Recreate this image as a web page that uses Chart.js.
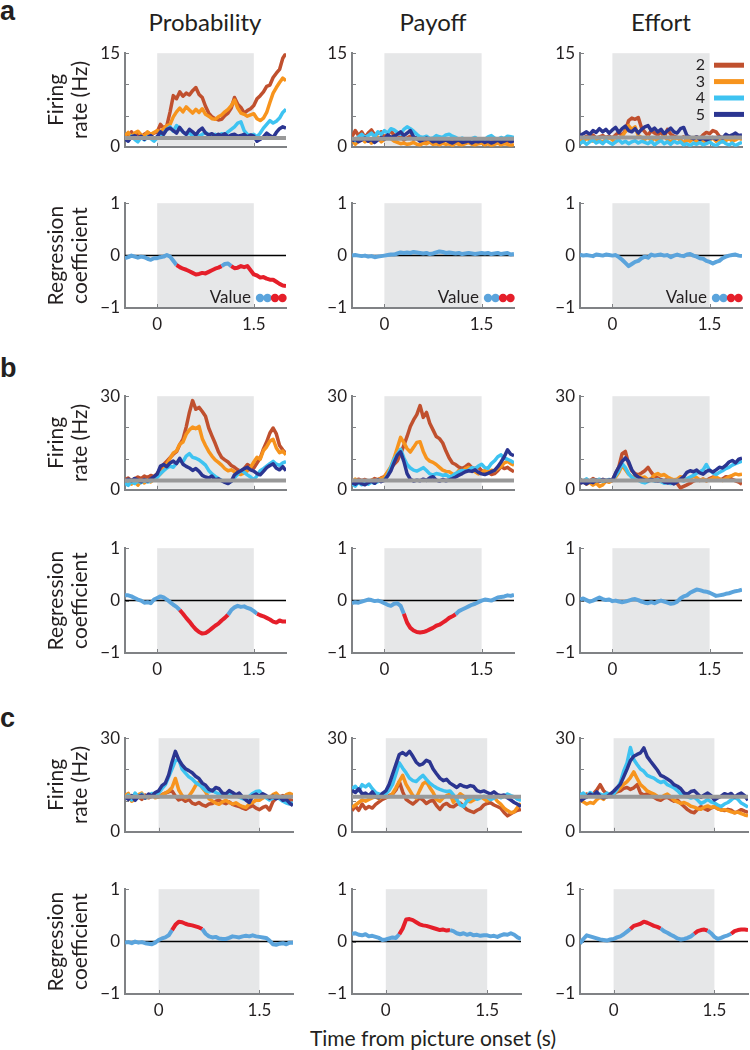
<!DOCTYPE html>
<html>
<head>
<meta charset="utf-8">
<script src="https://cdn.jsdelivr.net/npm/chart.js@4.4.1/dist/chart.umd.min.js"></script>
<style>
  html, body { margin: 0; padding: 0; background: #fff; overflow: hidden; }
  body { width: 750px; height: 1050px; position: relative; font-family: Lato, "Liberation Sans", Arial, sans-serif; color: #231f20; }
  canvas { position: absolute; }
  .lbl { position: absolute; white-space: nowrap; }
  .letter { font-weight: bold; font-size: 27px; font-family: "Liberation Sans", Arial, sans-serif; }
  .head { font-size: 24px; transform: translateX(-50%); }
</style>
</head>
<body>
<div class="lbl letter" style="left:0px;top:-4px">a</div>
<div class="lbl letter" style="left:0px;top:353px">b</div>
<div class="lbl letter" style="left:0px;top:703px">c</div>
<div class="lbl head" style="left:205px;top:7px">Probability</div>
<div class="lbl head" style="left:433px;top:7px">Payoff</div>
<div class="lbl head" style="left:661px;top:7px">Effort</div>
<div class="lbl head" style="left:433px;top:1025px;font-size:21px">Time from picture onset (s)</div>

<script>
// time axis (s)
const times = [-0.5,-0.45,-0.4,-0.35,-0.3,-0.25,-0.2,-0.15,-0.1,-0.05,
  0,0.05,0.1,0.15,0.2,0.25,0.3,0.35,0.4,0.45,
  0.5,0.55,0.6,0.65,0.7,0.75,0.8,0.85,0.9,0.95,
  1,1.05,1.1,1.15,1.2,1.25,1.3,1.35,1.4,1.45,
  1.5,1.55,1.6,1.65,1.7,1.75,1.8,1.85,1.9,1.95,2];

const seriesLabels = ['2', '3', '4', '5'];
const ticksA = [0, 5, 10, 15];
const ticksBC = [0, 10, 20, 30];
const regTicks = [-1, 0, 1];
const xTicks = [0, 1.5];
const picWindow = [0, 1.5];

// ---- row a : firing rate ----
const aProb2 = [2.1,1.6,2.4,1.8,2.2,1.5,2.0,2.3,1.9,2.2, 2.4,3.6,3.0,3.4,5.6,8.2,7.7,8.8,8.1,8.6, 8.3,9.0,9.5,8.4,7.9,6.5,5.4,4.8,4.5,4.3, 4.4,5.0,5.4,6.2,7.9,6.8,6.3,5.4,5.8,6.1, 6.6,7.7,8.2,8.8,9.7,9.9,11.1,11.8,12.4,14.2,15.0];
const aProb3 = [1.8,2.3,1.6,2.2,2.5,1.9,1.7,2.4,2.0,2.3, 2.6,2.4,2.9,3.4,3.6,4.8,5.6,6.2,5.6,6.4, 5.9,5.4,6.0,5.5,6.1,5.2,4.9,4.5,4.4,4.8, 5.1,5.6,6.0,6.6,7.5,6.2,5.4,5.2,4.9,5.1, 5.3,4.5,4.2,4.6,5.5,7.1,8.6,9.5,10.3,11.0,10.6];
const aProb4 = [1.3,1.0,1.7,1.2,0.8,1.5,1.1,1.6,1.3,0.9, 1.4,1.7,2.2,2.8,3.2,2.5,3.4,2.9,2.4,2.0, 2.2,1.8,2.1,1.7,2.0,2.3,1.9,1.6,2.0,1.8, 2.1,1.9,2.4,2.8,3.2,3.8,4.0,2.6,2.0,1.8, 2.0,1.6,2.2,3.0,3.6,4.2,3.8,4.1,4.6,5.5,6.0];
const aProb5 = [1.2,0.9,1.6,1.8,1.4,1.7,1.2,1.5,1.8,1.4, 1.6,2.4,2.0,2.8,3.0,2.6,2.2,3.1,2.4,2.0, 2.8,2.4,1.9,2.6,3.0,2.2,1.9,2.1,1.7,2.0, 1.8,2.1,1.6,1.9,2.0,1.7,1.8,2.0,1.6,1.9, 1.7,0.9,1.2,1.6,2.2,1.8,1.5,2.3,2.9,3.2,3.0];
const aPay2 = [1.6,2.6,1.8,2.4,1.5,2.2,2.7,1.9,2.1,2.4, 1.5,2.0,2.6,1.8,1.3,1.6,1.1,1.4,1.7,1.2, 1.5,1.0,1.3,0.9,1.2,1.0,0.8,1.1,0.9,1.3, 1.0,0.7,1.1,0.8,1.0,0.6,0.9,0.7,1.0,0.8, 1.1,0.9,0.6,0.8,1.0,0.7,0.9,1.1,0.8,1.0,0.9];
const aPay3 = [1.1,0.4,0.9,1.4,0.8,1.2,0.6,1.0,1.5,0.8, 1.2,1.6,1.3,0.9,0.7,0.5,0.6,0.4,0.5,0.7, 0.4,0.3,0.6,0.5,0.8,0.4,0.5,0.3,0.6,0.4, 0.5,0.2,0.6,0.4,0.3,0.5,0.7,0.4,0.3,0.5, 0.6,0.3,0.5,0.2,0.4,0.6,0.3,0.5,0.4,0.2,0.4];
const aPay4 = [1.4,1.0,1.6,2.0,1.5,1.8,2.2,1.6,2.4,2.0, 2.6,2.2,2.9,2.7,2.3,2.0,2.8,3.2,2.9,2.5, 2.0,1.6,1.5,1.7,1.3,1.4,1.8,1.6,1.5,1.9, 2.0,1.7,1.5,1.2,1.4,1.2,1.0,1.3,1.5,1.1, 1.0,1.2,1.6,1.8,1.4,1.2,1.5,1.3,1.7,1.6,1.5];
const aPay5 = [0.9,1.3,0.8,1.1,1.4,0.9,1.2,0.7,1.1,1.5, 1.2,1.9,1.5,1.7,2.0,2.4,1.8,2.2,2.6,1.6, 1.3,0.9,1.1,1.4,1.2,0.8,1.0,0.7,0.9,1.1, 0.8,0.6,0.9,1.1,0.7,0.8,1.0,0.6,0.9,0.8, 1.0,0.7,0.9,0.6,0.8,1.1,0.7,0.9,1.2,0.8,1.0];
const aEff2 = [1.6,1.3,1.7,1.5,1.9,1.4,1.6,1.8,1.5,1.7, 1.4,1.9,2.3,1.8,2.6,4.2,4.6,4.4,4.7,3.0, 2.4,1.8,2.6,2.2,1.9,2.4,1.6,2.8,2.0,1.7, 1.5,1.3,1.6,1.2,1.0,1.4,1.6,1.3,1.9,2.3, 2.1,2.6,2.4,1.7,1.4,1.2,1.5,1.3,1.6,1.4,1.3];
const aEff3 = [1.2,0.8,1.4,1.1,0.9,1.3,1.0,0.7,1.2,1.5, 1.1,0.8,1.4,1.7,2.4,3.4,2.8,3.2,1.8,1.5, 1.2,1.6,1.0,1.4,0.9,1.3,1.7,1.1,0.8,1.2, 1.5,1.0,0.7,1.1,0.9,1.3,0.8,1.2,1.0,0.7, 1.1,1.4,0.9,1.2,0.8,1.0,1.3,0.9,1.1,1.4,1.2];
const aEff4 = [0.5,0.9,0.4,0.8,1.1,0.6,0.9,0.5,1.0,0.7, 0.4,0.8,1.1,0.6,0.9,0.5,0.8,1.0,0.6,0.9, 0.7,0.5,0.9,0.3,0.7,1.0,0.5,0.8,0.4,0.9, 0.6,0.8,0.3,0.5,0.2,0.6,0.4,0.7,0.3,0.5, 0.8,0.4,0.2,0.6,0.9,0.5,0.3,0.6,0.2,0.5,0.7];
const aEff5 = [1.8,2.1,2.4,2.0,2.6,2.3,2.9,2.4,2.8,2.2, 2.7,3.1,2.3,2.9,3.3,2.6,2.4,2.9,2.2,2.8, 3.2,3.4,2.6,3.0,2.4,2.8,2.1,2.6,3.0,2.4, 2.2,2.9,3.1,1.8,1.5,1.3,1.6,1.2,1.4,1.1, 1.3,1.5,1.2,1.6,1.4,2.0,1.7,1.9,2.2,1.8,1.9];
const baseA = [1.4, 1.3, 1.5];

// ---- row a : regression ----
const aProbReg = [-0.05,-0.03,0.0,-0.02,-0.04,-0.02,-0.03,-0.06,-0.08,-0.05, -0.05,-0.03,-0.02,0.01,-0.02,-0.1,-0.18,-0.22,-0.25,-0.27, -0.3,-0.33,-0.36,-0.35,-0.33,-0.34,-0.31,-0.28,-0.25,-0.23, -0.2,-0.16,-0.15,-0.2,-0.24,-0.23,-0.2,-0.22,-0.2,-0.28, -0.36,-0.38,-0.42,-0.41,-0.44,-0.46,-0.46,-0.5,-0.54,-0.57,-0.58];
const aPayReg = [0.0,0.01,0.0,-0.01,0.0,-0.02,-0.01,-0.03,-0.02,-0.01, 0.0,0.01,0.02,0.02,0.04,0.06,0.05,0.06,0.05,0.07, 0.06,0.05,0.04,0.05,0.03,0.04,0.06,0.08,0.07,0.05, 0.06,0.05,0.04,0.05,0.03,0.04,0.05,0.04,0.03,0.04, 0.05,0.04,0.05,0.03,0.04,0.05,0.03,0.04,0.05,0.02,0.03];
const aEffReg = [0.02,0.0,0.01,0.0,-0.01,0.02,0.01,0.0,0.02,0.01, 0.0,0.01,-0.03,-0.08,-0.14,-0.2,-0.16,-0.12,-0.1,-0.05, -0.02,-0.04,0.02,0.0,0.01,0.02,0.0,0.01,-0.03,0.0, 0.02,0.0,-0.01,0.02,0.03,0.0,-0.02,-0.05,-0.06,-0.1, -0.12,-0.15,-0.12,-0.1,-0.05,-0.02,0.0,0.01,0.02,0.0,-0.01];
const aProbSig = [[0.3, 1.0], [1.15, 2.0]];
const aPaySig = [];
const aEffSig = [];

// ---- row b : firing rate ----
const bProb2 = [3.2,3.8,2.9,3.5,4.1,3.6,4.4,3.9,4.6,4.2, 5.2,6.8,8.1,9.2,10.3,11.4,12.2,14.5,16.2,20.1, 24.8,28.6,25.8,26.4,25.1,23.6,19.8,17.3,14.9,12.2, 10.4,9.6,8.9,7.8,7.2,6.4,5.9,6.8,8.1,7.4, 7.0,8.6,10.2,13.1,15.4,18.2,19.8,17.9,14.2,12.8,11.6];
const bProb3 = [2.4,3.0,1.8,2.6,1.5,2.8,2.2,3.1,2.5,3.4, 4.2,5.1,6.3,8.4,10.1,11.8,12.4,14.6,15.3,17.8, 19.2,20.1,19.6,20.3,16.4,14.2,12.3,10.8,9.6,8.8, 7.9,6.8,6.1,6.4,5.8,5.2,4.9,5.4,6.1,7.2, 8.9,10.4,9.8,12.6,13.8,15.6,16.2,13.4,11.9,12.4,11.2];
const bProb4 = [2.2,1.4,2.6,2.0,2.8,2.3,3.1,2.5,2.9,3.6, 4.0,5.2,6.1,7.0,7.6,7.2,8.6,9.4,9.0,10.8, 11.6,10.4,10.1,9.6,8.8,7.9,6.2,5.1,4.3,3.6, 3.0,2.6,2.1,2.8,3.9,5.0,6.2,5.6,4.8,4.1, 3.2,4.5,6.1,6.8,7.6,8.4,9.1,8.2,7.8,8.6,9.0];
const bProb5 = [2.8,3.4,2.9,3.6,3.1,2.6,3.3,2.8,3.5,4.2, 5.0,7.6,8.1,7.4,8.6,9.2,8.4,10.1,8.2,7.5, 7.0,6.2,6.8,5.9,4.6,4.1,3.8,4.4,3.2,3.5, 2.9,2.4,2.0,2.7,4.8,5.6,6.1,6.8,7.2,6.4, 6.0,5.2,4.8,5.9,7.1,7.8,8.3,6.9,6.4,7.4,6.1];
const bPay2 = [3.1,2.6,3.4,2.9,3.3,2.8,3.0,3.6,3.2,3.8, 4.2,5.5,7.1,8.2,9.3,11.6,14.2,17.1,20.3,22.4, 24.1,27.0,23.2,24.8,21.3,19.2,17.1,16.4,15.0,12.4, 10.2,8.6,8.1,7.3,6.9,7.4,8.2,7.1,6.8,7.3, 6.1,5.4,5.8,4.9,5.2,6.1,7.4,6.8,7.2,6.4,5.8];
const bPay3 = [2.1,3.4,2.6,1.8,2.9,2.4,3.1,2.7,3.3,3.6, 4.1,5.8,7.4,10.2,13.5,16.8,15.1,13.2,12.1,13.6, 15.2,15.4,12.3,10.1,9.2,8.8,8.1,7.2,6.3,5.9, 5.8,5.1,4.9,6.2,5.7,6.8,7.2,6.4,5.8,5.1, 5.4,6.2,5.7,6.3,6.1,6.8,7.4,8.6,9.1,8.4,7.9];
const bPay4 = [2.0,1.2,2.4,1.6,2.2,1.8,2.5,2.1,2.6,2.9, 3.1,4.6,7.2,9.8,11.4,13.0,10.2,8.1,7.0,6.3, 6.0,6.5,7.1,6.2,5.1,4.8,5.2,5.0,4.6,4.9, 4.1,4.5,5.2,5.8,6.2,6.0,6.3,7.1,6.8,7.6, 8.2,7.1,6.9,8.4,9.3,10.6,11.2,10.1,9.8,9.3,8.7];
const bPay5 = [2.2,1.8,2.5,2.0,1.6,2.3,2.8,2.1,3.2,2.6, 3.0,4.4,6.1,8.7,11.1,12.2,9.1,5.2,3.4,2.8, 3.1,2.9,3.4,3.0,3.8,4.2,3.1,2.8,3.3,2.9, 3.2,3.6,4.1,4.7,5.2,5.8,6.1,5.9,6.4,5.6, 5.1,4.9,5.3,5.8,6.2,7.4,8.9,10.6,12.8,11.4,10.9];
const bEff2 = [3.4,2.6,3.1,2.8,3.6,3.0,2.7,3.3,2.9,3.1, 3.2,5.1,7.4,11.6,12.3,8.4,6.1,5.2,4.8,5.4, 6.1,7.2,5.6,4.3,3.8,3.2,2.9,3.4,3.1,2.6, 2.0,0.6,1.1,1.6,2.1,2.8,3.2,3.0,3.4,2.9, 3.6,4.1,3.9,3.2,3.5,4.2,4.0,3.3,2.9,2.5,1.8];
const bEff3 = [2.1,2.6,1.8,2.4,1.5,2.2,1.1,1.6,2.8,2.4, 3.0,4.1,5.6,7.8,6.4,5.0,4.2,3.8,4.4,3.9, 4.1,3.2,3.6,4.8,5.2,4.6,4.9,4.1,3.6,3.2, 3.4,4.2,3.8,3.1,3.6,4.3,3.9,3.1,3.4,2.9, 3.2,3.8,4.1,3.5,3.0,3.6,4.2,4.6,5.1,4.8,5.0];
const bEff4 = [3.2,2.8,3.5,2.6,3.1,2.9,3.4,2.7,3.0,3.3, 3.1,4.6,6.2,8.4,7.1,5.2,4.0,3.3,3.1,2.5, 2.2,2.7,3.1,2.8,3.3,2.6,2.1,2.4,2.0,2.3, 2.9,3.1,2.8,3.6,4.1,4.6,5.3,5.8,6.4,8.1, 6.2,5.4,4.9,5.6,6.1,6.8,7.2,7.9,8.4,8.8,9.2];
const bEff5 = [2.1,2.5,1.9,2.6,2.3,3.1,2.8,3.3,2.9,3.2, 3.0,5.4,7.3,9.1,10.2,9.0,6.4,4.8,4.1,3.5, 3.1,2.9,3.3,3.0,2.8,3.2,2.5,2.2,2.4,1.9, 2.6,3.4,4.2,5.6,6.1,5.8,6.3,5.4,5.0,5.9, 6.3,5.7,6.4,7.2,7.0,7.8,8.9,9.4,8.6,9.8,10.1];
const baseB = [3.0, 3.0, 3.0];

// ---- row b : regression ----
const bProbReg = [0.1,0.1,0.08,0.05,0.02,0.0,-0.04,-0.03,-0.05,0.02, 0.05,0.08,0.06,0.02,-0.03,-0.08,-0.12,-0.18,-0.25,-0.33, -0.4,-0.48,-0.55,-0.6,-0.63,-0.62,-0.58,-0.53,-0.48,-0.44, -0.38,-0.33,-0.27,-0.18,-0.13,-0.1,-0.12,-0.11,-0.14,-0.16, -0.2,-0.25,-0.28,-0.3,-0.33,-0.36,-0.4,-0.42,-0.38,-0.4,-0.4];
const bPayReg = [-0.05,-0.03,-0.04,-0.02,0.0,0.02,0.01,-0.01,0.0,-0.02, -0.05,-0.08,-0.1,-0.06,-0.05,-0.1,-0.25,-0.42,-0.52,-0.57, -0.6,-0.61,-0.6,-0.58,-0.55,-0.52,-0.48,-0.46,-0.42,-0.38, -0.33,-0.3,-0.26,-0.2,-0.17,-0.14,-0.11,-0.08,-0.06,-0.03, 0.0,0.02,0.01,0.0,0.03,0.06,0.07,0.08,0.1,0.09,0.11];
const bEffReg = [0.02,0.04,0.01,-0.02,0.0,0.03,0.06,0.03,0.01,0.02, -0.01,0.0,-0.02,-0.03,-0.02,0.0,0.02,0.03,0.01,-0.02, -0.04,-0.05,-0.03,-0.05,-0.02,0.0,-0.02,-0.04,-0.06,-0.05, -0.02,0.04,0.08,0.1,0.15,0.18,0.21,0.2,0.18,0.17, 0.15,0.12,0.09,0.1,0.11,0.13,0.14,0.16,0.18,0.19,0.21];
const bProbSig = [[0.35, 1.1], [1.55, 2.0]];
const bPaySig = [[0.3, 1.1]];
const bEffSig = [];

// ---- row c : firing rate ----
const cProb2 = [10.8,11.6,10.2,11.9,11.2,10.4,11.8,10.9,11.4,12.1, 11.2,11.9,12.4,12.8,13.1,11.4,10.2,10.6,9.8,10.4, 9.2,8.8,9.4,8.6,8.2,8.9,9.1,9.8,10.1,9.4, 9.0,9.6,8.8,8.4,8.1,7.6,7.2,7.9,8.4,7.6, 7.1,7.8,8.2,7.0,9.6,10.8,11.2,11.6,10.9,10.4,9.9];
const cProb3 = [11.6,12.3,9.8,10.6,11.9,12.4,10.8,11.2,12.1,10.9, 11.2,11.8,12.4,13.1,14.2,17.1,13.4,11.6,10.8,11.4, 12.9,14.8,15.9,14.1,12.8,10.6,9.9,9.2,8.8,9.6, 10.1,9.4,8.9,9.3,8.6,8.1,7.8,8.9,9.4,10.2, 10.1,10.8,11.4,10.9,11.9,12.4,11.2,10.8,11.9,12.3,11.8];
const cProb4 = [10.6,11.8,10.2,12.4,11.0,12.1,10.8,11.5,12.3,11.9, 12.4,13.8,15.1,17.6,20.2,22.8,23.2,20.1,18.8,17.6, 16.9,15.8,15.1,14.3,13.2,12.8,13.4,12.6,12.1,11.4, 12.2,11.6,12.4,11.8,11.1,10.6,10.2,11.4,12.3,12.9, 13.1,11.8,10.9,10.2,10.8,11.4,10.6,9.8,9.2,8.9,9.4];
const cProb5 = [11.2,10.4,11.6,10.1,11.3,11.8,10.9,12.1,11.4,12.6, 13.1,14.8,15.6,18.2,22.4,25.8,23.1,21.4,20.2,19.6, 18.9,17.8,17.1,15.6,14.9,13.6,13.1,14.2,13.8,12.4, 12.1,13.2,12.6,11.8,12.4,11.1,10.2,9.4,11.6,12.1, 11.4,12.2,11.6,10.8,11.4,10.6,11.2,10.1,10.4,9.2,8.4];
const cPay2 = [6.8,8.2,6.9,8.9,7.4,8.1,7.6,8.8,9.6,10.4, 10.9,11.6,12.1,13.4,16.1,12.8,10.4,9.6,8.9,9.8, 10.9,10.2,9.1,9.8,10.1,8.4,7.2,8.6,9.1,8.2, 8.0,8.8,9.2,8.1,7.1,6.6,6.2,6.9,7.4,8.6, 9.1,9.3,8.6,8.1,7.6,6.2,5.1,5.8,6.4,6.9,7.2];
const cPay3 = [7.8,8.6,9.4,10.2,9.8,10.4,10.9,11.2,10.6,11.4, 11.1,11.3,12.2,14.1,16.2,18.1,15.2,13.4,11.6,10.8, 13.2,15.4,16.1,14.2,12.6,10.4,9.8,10.9,11.6,12.1, 9.4,10.8,12.2,11.4,10.1,9.6,10.2,10.8,11.3,10.6, 9.9,10.6,11.2,9.8,8.9,7.6,6.8,6.1,6.4,7.9,9.1];
const cPay4 = [13.8,14.6,13.2,15.1,14.4,15.3,13.8,12.6,12.1,11.8, 12.2,13.4,15.2,18.6,22.1,20.4,18.9,17.2,16.4,16.1, 17.2,18.1,16.8,15.6,14.8,14.1,13.6,13.2,12.9,13.1, 11.8,10.4,8.6,8.1,9.8,10.6,11.2,10.4,10.9,11.4, 11.1,10.3,10.8,11.6,10.9,11.4,12.1,11.6,11.2,10.4,10.1];
const cPay5 = [13.2,12.6,13.8,12.1,12.4,11.6,12.8,11.2,10.9,12.3, 13.1,15.2,18.4,21.6,24.8,25.4,24.6,25.8,24.2,22.3, 21.4,21.8,22.9,22.4,20.1,18.6,17.2,16.4,16.8,15.6, 14.9,14.2,15.1,14.6,14.3,14.8,14.5,13.2,12.8,13.1, 12.6,12.1,12.8,11.9,11.6,11.8,10.9,10.2,9.4,8.8,8.1];
const cEff2 = [10.9,11.4,12.1,11.6,12.2,13.4,15.1,13.2,12.1,11.8, 12.1,12.8,13.1,13.9,14.2,13.6,14.1,15.1,12.4,11.8, 12.1,11.6,11.1,10.4,10.1,10.8,11.1,10.4,9.8,10.2, 9.1,8.1,7.1,6.4,6.1,7.2,8.1,7.4,6.9,7.6, 8.1,7.4,7.1,6.8,7.2,6.9,6.1,6.5,7.1,6.6,6.2];
const cEff3 = [10.2,9.6,8.9,9.4,9.1,10.3,11.1,10.4,11.8,12.1, 12.0,13.2,14.1,15.2,16.1,17.4,19.2,17.1,15.1,14.2, 13.1,12.6,12.1,11.4,10.9,11.6,12.1,11.2,10.1,9.6, 9.1,9.4,8.9,8.2,7.9,7.4,7.2,7.9,8.3,7.8, 8.1,7.4,6.9,7.1,6.8,6.4,6.1,6.3,5.8,5.4,5.1];
const cEff4 = [11.8,12.4,11.2,12.6,11.9,11.3,12.1,11.6,12.4,11.8, 12.1,13.6,15.8,19.4,22.1,27.0,23.2,21.6,20.1,19.4, 18.1,17.6,17.2,16.4,15.8,16.2,15.1,14.6,14.1,13.2, 12.1,11.4,11.2,10.8,11.1,10.2,9.1,9.6,10.4,9.6, 9.2,8.6,8.1,8.9,9.4,10.2,11.1,10.4,9.2,8.6,7.9];
const cEff5 = [9.8,10.6,11.2,12.1,11.6,12.8,11.4,10.9,11.2,12.1, 13.0,14.1,15.2,17.6,20.1,22.8,24.2,24.8,25.3,26.9, 24.1,22.6,21.2,19.8,18.1,17.6,16.9,16.2,15.1,14.6, 13.8,12.4,12.1,12.9,13.2,12.1,11.1,11.8,12.4,11.6, 10.2,10.9,11.4,12.2,11.8,12.3,11.1,11.9,12.4,11.6,10.1];
const baseC = [11.2, 11.2, 11.2];

// ---- row c : regression ----
const cProbReg = [-0.02,-0.01,-0.03,0.0,-0.02,-0.01,-0.03,-0.04,-0.05,-0.02, 0.03,0.06,0.08,0.12,0.22,0.32,0.38,0.37,0.34,0.32, 0.31,0.29,0.27,0.24,0.15,0.1,0.08,0.09,0.06,0.05, 0.05,0.07,0.1,0.09,0.08,0.1,0.11,0.1,0.12,0.1, 0.09,0.08,0.07,0.02,-0.05,-0.06,-0.04,-0.03,-0.05,-0.02,-0.02];
const cPayReg = [0.15,0.16,0.13,0.12,0.14,0.1,0.11,0.09,0.07,0.03, 0.04,0.06,0.08,0.07,0.14,0.25,0.42,0.43,0.41,0.37, 0.33,0.31,0.3,0.28,0.26,0.24,0.22,0.23,0.21,0.22, 0.2,0.16,0.14,0.16,0.13,0.15,0.12,0.13,0.11,0.12, 0.12,0.1,0.11,0.09,0.12,0.14,0.13,0.16,0.13,0.08,0.05];
const cEffReg = [-0.04,0.05,0.12,0.1,0.08,0.06,0.04,0.03,0.02,0.04, 0.05,0.08,0.1,0.14,0.19,0.24,0.3,0.32,0.34,0.38, 0.36,0.33,0.3,0.28,0.25,0.2,0.17,0.13,0.1,0.06, 0.04,0.05,0.07,0.1,0.15,0.2,0.22,0.23,0.21,0.16, 0.09,0.05,0.07,0.1,0.12,0.15,0.2,0.22,0.23,0.23,0.22];
const cProbSig = [[0.2, 0.65]];
const cPaySig = [[0.2, 0.95]];
const cEffSig = [[0.25, 0.7], [1.2, 1.4], [1.75, 2.0]];

// ---- styling ----
const FONT = 'Lato, "Liberation Sans", Arial, sans-serif';
const INK = '#231f20';
const AXIS = '#808285';
const SHADE = '#e6e7e8';
const lineColors = ['#c0502e', '#f7941d', '#3ec3f1', '#2b3591'];
const BLUE = '#5ba4dc';
const RED = '#e51f2a';

// plot-area geometry (px)
const colLeft = [125, 352, 580];
const rowWidth = [[161, 162, 162], [161, 162, 162], [168, 169, 168]];
const frTop = [48, 391, 733];
const regTop = [198, 543, 884];
const PLOT_H = 110;
const PT = 10, PR = 4;

const decoPlugin = {
  id: 'deco',
  beforeDatasetsDraw(chart, args, o) {
    const {ctx, chartArea: a, scales: {x, y}} = chart;
    ctx.save();
    const x0 = x.getPixelForValue(picWindow[0]);
    const x1 = x.getPixelForValue(picWindow[1]);
    ctx.fillStyle = SHADE;
    ctx.fillRect(x0, a.top, x1 - x0, a.bottom - a.top - 1);
    ctx.strokeStyle = AXIS;
    ctx.lineWidth = 1;
    ctx.beginPath();
    y.ticks.forEach(t => {
      const py = Math.round(y.getPixelForValue(t.value)) + 0.5;
      ctx.moveTo(a.left, py); ctx.lineTo(a.left + 4, py);
    });
    x.ticks.forEach(t => {
      const px = Math.round(x.getPixelForValue(t.value)) + 0.5;
      ctx.moveTo(px, a.bottom); ctx.lineTo(px, a.bottom - 4);
    });
    ctx.stroke();
    ctx.restore();
  },
  afterDatasetsDraw(chart, args, o) {
    const {ctx, chartArea: a} = chart;
    ctx.save();
    if (o.valueKey) {
      const cy = a.bottom - 10;
      ctx.fillStyle = INK;
      ctx.font = '17px ' + FONT;
      ctx.textAlign = 'right';
      ctx.textBaseline = 'middle';
      ctx.fillText('Value', a.right - 35, cy);
      [BLUE, BLUE, RED, RED].forEach((c, k) => {
        ctx.fillStyle = c;
        ctx.beginPath();
        ctx.arc(a.right - 26 + k * 7.5, cy, 4.2, 0, Math.PI * 2);
        ctx.fill();
      });
    }
    if (o.legend) {
      ctx.font = '16px ' + FONT;
      ctx.textAlign = 'right';
      ctx.textBaseline = 'middle';
      seriesLabels.forEach((lab, k) => {
        const ds = chart.data.datasets.find(d => d.label === lab);
        const cy = a.top + 12 + k * 16.4;
        ctx.fillStyle = INK;
        ctx.fillText(lab, a.right - 37, cy);
        ctx.strokeStyle = ds.borderColor;
        ctx.lineWidth = 5;
        ctx.beginPath();
        ctx.moveTo(a.right - 28, cy); ctx.lineTo(a.right + 2, cy);
        ctx.stroke();
      });
    }
    ctx.restore();
  }
};

function toPoints(vals) {
  return vals.map((v, i) => ({x: times[i], y: v}));
}

function flat(value) {
  return [{x: times[0], y: value}, {x: times[times.length - 1], y: value}];
}

function inWindows(t, wins) {
  return wins.some(w => t >= w[0] - 1e-9 && t <= w[1] + 1e-9);
}

function addPanel(row, col, kind, spec) {
  const firstCol = col === 0;
  const yw = firstCol ? 85 : 35;
  const xh = kind === 'fr' ? 4 : 30;
  const w = rowWidth[row][col];
  const top = kind === 'fr' ? frTop[row] : regTop[row];
  const cv = document.createElement('canvas');
  cv.width = yw + w + PR;
  cv.height = PT + PLOT_H + xh;
  cv.style.left = (colLeft[col] - yw) + 'px';
  cv.style.top = (top - PT) + 'px';
  document.body.appendChild(cv);

  let datasets, yMin, yMax, yTickVals, yTitle;
  if (kind === 'fr') {
    datasets = [{label: 'baseline', data: flat(spec.base), borderColor: '#999999', backgroundColor: '#999999', borderWidth: 4}];
    for (let k = 3; k >= 0; k--) {
      datasets.push({label: seriesLabels[k], data: toPoints(spec.lines[k]), borderColor: lineColors[k], backgroundColor: lineColors[k], borderWidth: 3.5});
    }
    yTickVals = spec.ticks;
    yMin = yTickVals[0]; yMax = yTickVals[yTickVals.length - 1];
    yTitle = ['Firing', 'rate (Hz)'];
  } else {
    const wins = spec.sig;
    datasets = [
      {label: 'coef', data: toPoints(spec.reg), borderColor: BLUE, borderWidth: 4,
        segment: {borderColor: c => (inWindows(times[c.p0DataIndex], wins) && inWindows(times[c.p1DataIndex], wins)) ? RED : BLUE}},
      {label: 'zero', data: flat(0), borderColor: '#000000', borderWidth: 1.5}
    ];
    yTickVals = regTicks;
    yMin = -1; yMax = 1;
    yTitle = ['Regression', 'coefficient'];
  }
  datasets.forEach(d => { d.pointRadius = 0; d.tension = 0; d.fill = false; d.borderJoinStyle = 'round'; d.borderCapStyle = 'butt'; });

  new Chart(cv, {
    type: 'line',
    data: {datasets},
    options: {
      responsive: false,
      animation: false,
      events: [],
      layout: {padding: {top: PT, right: PR, left: 0, bottom: 0}},
      scales: {
        x: {
          type: 'linear', min: times[0], max: times[times.length - 1],
          afterBuildTicks: s => { s.ticks = xTicks.map(v => ({value: v})); },
          afterFit: s => { s.height = xh; },
          grid: {display: false, drawTicks: false},
          border: {color: AXIS, width: 2},
          ticks: {display: kind !== 'fr', padding: 6, color: INK, font: {size: 17, family: FONT},
            callback: v => String(v)}
        },
        y: {
          type: 'linear', min: yMin, max: yMax,
          afterBuildTicks: s => { s.ticks = yTickVals.map(v => ({value: v})); },
          afterFit: s => { s.width = yw; },
          grid: {display: false, drawTicks: false},
          border: {color: AXIS, width: 2},
          ticks: {padding: 5, color: INK, font: {size: 17, family: FONT},
            callback: v => {
              if (kind === 'fr' && v !== yMin && v !== yMax) return '';
              return v < 0 ? '\u2212' + Math.abs(v) : String(v);
            }},
          title: {display: firstCol, text: yTitle, color: INK, font: {size: 21, family: FONT, lineHeight: 1.15}, padding: {top: 4, bottom: 0}}
        }
      },
      plugins: {
        legend: {display: false},
        tooltip: {enabled: false},
        deco: {valueKey: !!spec.valueKey, legend: !!spec.legend}
      }
    },
    plugins: [decoPlugin]
  });
}

// row a
addPanel(0, 0, 'fr', {lines: [aProb2, aProb3, aProb4, aProb5], base: baseA[0], ticks: ticksA});
addPanel(0, 1, 'fr', {lines: [aPay2, aPay3, aPay4, aPay5], base: baseA[1], ticks: ticksA});
addPanel(0, 2, 'fr', {lines: [aEff2, aEff3, aEff4, aEff5], base: baseA[2], ticks: ticksA, legend: true});
addPanel(0, 0, 'reg', {reg: aProbReg, sig: aProbSig, valueKey: true});
addPanel(0, 1, 'reg', {reg: aPayReg, sig: aPaySig, valueKey: true});
addPanel(0, 2, 'reg', {reg: aEffReg, sig: aEffSig, valueKey: true});
// row b
addPanel(1, 0, 'fr', {lines: [bProb2, bProb3, bProb4, bProb5], base: baseB[0], ticks: ticksBC});
addPanel(1, 1, 'fr', {lines: [bPay2, bPay3, bPay4, bPay5], base: baseB[1], ticks: ticksBC});
addPanel(1, 2, 'fr', {lines: [bEff2, bEff3, bEff4, bEff5], base: baseB[2], ticks: ticksBC});
addPanel(1, 0, 'reg', {reg: bProbReg, sig: bProbSig});
addPanel(1, 1, 'reg', {reg: bPayReg, sig: bPaySig});
addPanel(1, 2, 'reg', {reg: bEffReg, sig: bEffSig});
// row c
addPanel(2, 0, 'fr', {lines: [cProb2, cProb3, cProb4, cProb5], base: baseC[0], ticks: ticksBC});
addPanel(2, 1, 'fr', {lines: [cPay2, cPay3, cPay4, cPay5], base: baseC[1], ticks: ticksBC});
addPanel(2, 2, 'fr', {lines: [cEff2, cEff3, cEff4, cEff5], base: baseC[2], ticks: ticksBC});
addPanel(2, 0, 'reg', {reg: cProbReg, sig: cProbSig});
addPanel(2, 1, 'reg', {reg: cPayReg, sig: cPaySig});
addPanel(2, 2, 'reg', {reg: cEffReg, sig: cEffSig});
</script>
</body>
</html>
